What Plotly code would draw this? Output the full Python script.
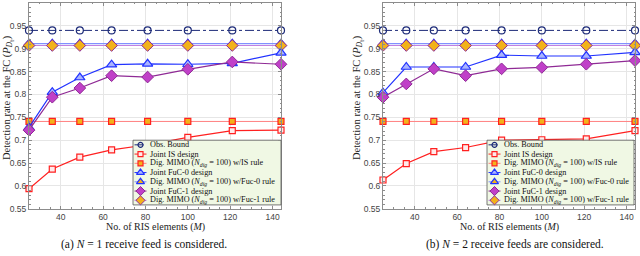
import plotly.graph_objects as go

M = [25, 36, 49, 64, 81, 100, 121, 144]

# Panel (a): N = 1
a_obs = [0.940] * 8
a_jis = [0.594, 0.637, 0.663, 0.679, 0.690, 0.706, 0.721, 0.722]
a_dis = [0.741] * 8
a_fc0 = [0.728, 0.805, 0.837, 0.865, 0.867, 0.866, 0.868, 0.891]
a_df0 = [0.911] * 8
a_fc1 = [0.722, 0.794, 0.814, 0.841, 0.838, 0.855, 0.871, 0.866]
a_df1 = [0.907] * 8

# Panel (b): N = 2
b_obs = [0.940] * 8
b_jis = [0.613, 0.649, 0.675, 0.684, 0.700, 0.701, 0.703, 0.721]
b_dis = [0.741] * 8
b_fc0 = [0.804, 0.860, 0.860, 0.860, 0.886, 0.884, 0.884, 0.892]
b_df0 = [0.911] * 8
b_fc1 = [0.794, 0.823, 0.856, 0.841, 0.856, 0.859, 0.866, 0.874]
b_df1 = [0.907] * 8

legend_names = [
    "Obs. Bound",
    "Joint IS design",
    "Dig. MIMO (<i>N<sub>dig</sub></i> = 100) w/IS rule",
    "Joint FuC-0 design",
    "Dig. MIMO (<i>N<sub>dig</sub></i> = 100) w/Fuc-0 rule",
    "Joint FuC-1 design",
    "Dig. MIMO (<i>N<sub>dig</sub></i> = 100) w/Fuc-1 rule",
]

x_ticks = [40, 60, 80, 100, 120, 140]
y_ticks = [0.55, 0.6, 0.65, 0.7, 0.75, 0.8, 0.85, 0.9, 0.95, 1.0]
y_ticktext = ["0.55", "0.6", "0.65", "0.7", "0.75", "0.8", "0.85", "0.9", "0.95", "1"]

NAVY = "#1c2a78"
RED = "#ff2020"
LRED = "#ff8080"
ORANGE = "#f2b21a"
BLUE = "#2233ff"
LBLUE = "#8090ff"
PURPLE = "#8f2a95"
LPURPLE = "#c080e0"

styles = [
    dict(line=dict(color=NAVY, width=1, dash="dashdot"),
         marker=dict(symbol="circle-open", size=7, color=NAVY, line=dict(width=1.2, color=NAVY))),
    dict(line=dict(color=RED, width=1.2),
         marker=dict(symbol="square", size=6, color="#ffeaea", line=dict(width=1.2, color=RED))),
    dict(line=dict(color=LRED, width=1),
         marker=dict(symbol="square", size=6, color=ORANGE, line=dict(width=1.2, color=RED))),
    dict(line=dict(color=BLUE, width=1.2),
         marker=dict(symbol="triangle-up", size=9, color="#aab4ff", line=dict(width=1.2, color=BLUE))),
    dict(line=dict(color=LBLUE, width=1.2),
         marker=dict(symbol="triangle-up", size=9, color=ORANGE, line=dict(width=1.2, color=BLUE))),
    dict(line=dict(color=PURPLE, width=1.2),
         marker=dict(symbol="diamond", size=9, color="#c040c8", line=dict(width=1, color=PURPLE))),
    dict(line=dict(color=LPURPLE, width=1.2),
         marker=dict(symbol="diamond", size=9, color=ORANGE, line=dict(width=1, color=PURPLE))),
]

panels = [
    ("x", "y", [a_obs, a_jis, a_dis, a_fc0, a_df0, a_fc1, a_df1]),
    ("x2", "y2", [b_obs, b_jis, b_dis, b_fc0, b_df0, b_fc1, b_df1]),
]

fig = go.Figure()
order = [0, 1, 2, 4, 6, 3, 5]
for xa, ya, series in panels:
    for i in order:
        st = styles[i]
        fig.add_trace(go.Scatter(x=M, y=series[i], mode="lines+markers", xaxis=xa, yaxis=ya,
                                 line=st["line"], marker=st["marker"], showlegend=False,
                                 cliponaxis=False))

W, H = 640, 256
xdom_a = [29 / W, 281 / W]
xdom_b = [383 / W, 635 / W]
ydom = [1 - 213 / H, 1 - 3 / H]

axis_common = dict(showline=True, linecolor="#8c8c8c", linewidth=1, mirror="ticks",
                   ticks="inside", ticklen=3, tickcolor="#8c8c8c",
                   showgrid=True, gridcolor="#e6e6e6", gridwidth=1, zeroline=False,
                   tickfont=dict(family="Liberation Sans", size=8.5, color="#444444"))

xcommon = dict(axis_common, range=[25, 144], tickvals=x_ticks, ticklabelstandoff=0,
               minor=dict(ticks="inside", ticklen=1.5, dtick=5, tick0=0, tickcolor="#8c8c8c", showgrid=False))
ycommon = dict(axis_common, range=[0.55, 1.0], tickvals=y_ticks, ticktext=y_ticktext,
               minor=dict(ticks="inside", ticklen=1.5, dtick=0.01, tick0=0, tickcolor="#8c8c8c", showgrid=False))

fig.update_layout(
    width=W, height=H,
    margin=dict(l=0, r=0, t=0, b=0),
    paper_bgcolor="white", plot_bgcolor="rgba(0,0,0,0)",
    showlegend=False,
    xaxis=dict(xcommon, domain=xdom_a, anchor="y"),
    yaxis=dict(ycommon, domain=ydom, anchor="x"),
    xaxis2=dict(xcommon, domain=xdom_b, anchor="y2"),
    yaxis2=dict(ycommon, domain=ydom, anchor="x2"),
    xaxis3=dict(domain=[0, 1], range=[0, W], visible=False, anchor="y3", fixedrange=True),
    yaxis3=dict(domain=[0, 1], range=[H, 0], visible=False, anchor="x3", fixedrange=True),
)

serif = "Liberation Serif"

# Custom compact legends
legend_boxes = [(133, 281, 143, 209), (487, 634, 143, 209)]
shapes = []
annotations = []
for (x0, x1, y0, y1) in legend_boxes:
    shapes.append(dict(type="rect", xref="x3", yref="y3", x0=x0, x1=x1, y0=y0, y1=y1,
                       fillcolor="#f0f8e4", line=dict(color="#555555", width=0.8), layer="below"))
fig.update_layout(shapes=shapes)

for (x0, x1, y0, y1) in legend_boxes:
    rowh = (y1 - y0) / 7
    for k, name in enumerate(legend_names):
        yc = y0 + rowh * (k + 0.5)
        st = styles[k]
        mk = dict(st["marker"])
        mk["size"] = max(5, mk["size"] - 2)
        fig.add_trace(go.Scatter(x=[x0 + 1.5, x0 + 13.5], y=[yc, yc], mode="lines", xaxis="x3", yaxis="y3",
                                 line=dict(color=st["line"]["color"], width=1, dash=st["line"].get("dash", "solid")),
                                 showlegend=False, hoverinfo="skip"))
        fig.add_trace(go.Scatter(x=[x0 + 7.5], y=[yc], mode="markers", xaxis="x3", yaxis="y3",
                                 marker=mk, showlegend=False, hoverinfo="skip"))
        annotations.append(dict(xref="x3", yref="y3", x=x0 + 14.5, y=yc, text=name, showarrow=False,
                                xanchor="left", yanchor="middle",
                                font=dict(family=serif, size=8.2, color="#111111")))

# Axis titles and captions
for cx, ccap, ty, cap in [(155, 144, 8, "(a) <i>N</i> = 1 receive feed is considered."),
                          (509, 515, 358, "(b) <i>N</i> = 2 receive feeds are considered.")]:
    annotations.append(dict(xref="x3", yref="y3", x=cx, y=231.5, text="No. of RIS elements (<i>M</i>)",
                            showarrow=False, xanchor="center", yanchor="middle",
                            font=dict(family=serif, size=10, color="#222222")))
    annotations.append(dict(xref="x3", yref="y3", x=ty, y=100,
                            text="Detection rate at the FC (<i>P</i><sub><i>D<sub>h</sub></i></sub>)",
                            showarrow=False, textangle=-90, xanchor="center", yanchor="middle",
                            font=dict(family=serif, size=10.5, color="#222222")))
    annotations.append(dict(xref="x3", yref="y3", x=ccap, y=249, text=cap,
                            showarrow=False, xanchor="center", yanchor="middle",
                            font=dict(family=serif, size=11.5, color="#111111")))

fig.update_layout(annotations=annotations)

fig.write_html("out.html", config={"displayModeBar": False},
               post_script="document.body.style.margin='0';document.body.style.overflow='hidden';")
